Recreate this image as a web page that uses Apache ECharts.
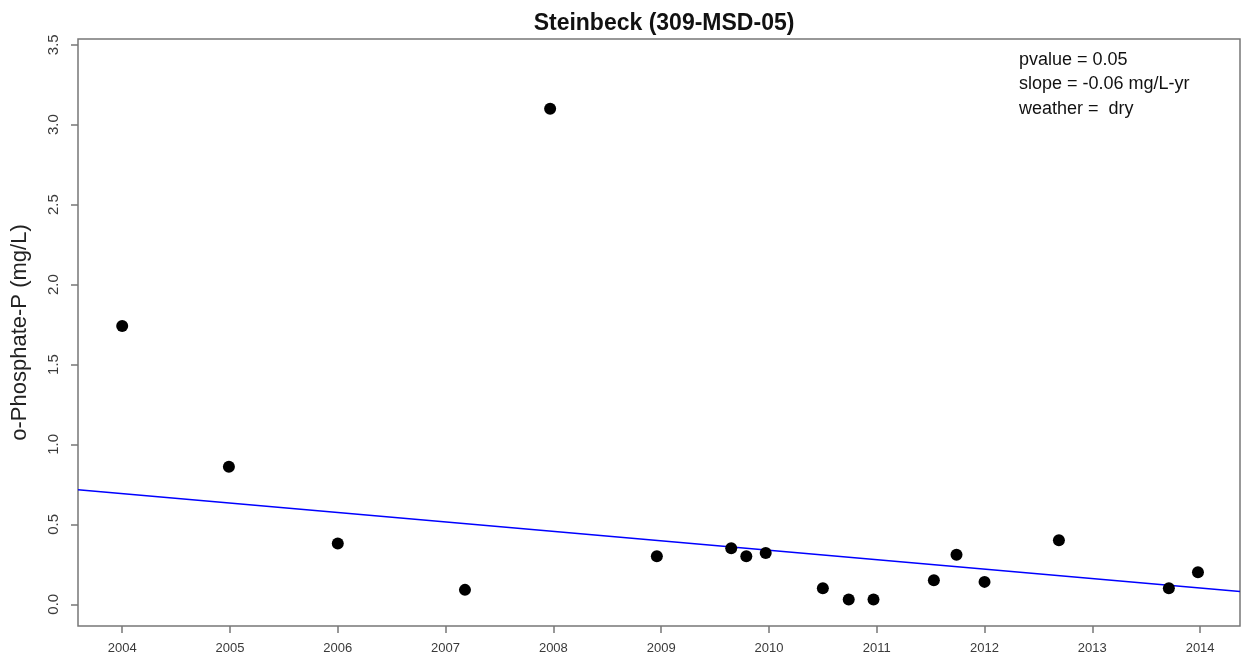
<!DOCTYPE html>
<html>
<head>
<meta charset="utf-8">
<script src="https://cdn.jsdelivr.net/npm/echarts@6/dist/echarts.min.js"></script>
<style>
  html, body { margin: 0; padding: 0; background: #fff; }
  #main { width: 1244px; height: 664px; }
</style>
</head>
<body>
<div id="main"></div>
<script>
// sample dates (decimal years) and o-phosphate values
var sampleYears = [2004.00, 2004.99, 2006.00, 2007.18, 2007.97, 2008.96, 2009.65, 2009.79, 2009.97,
                   2010.50, 2010.74, 2010.97, 2011.53, 2011.74, 2012.00, 2012.69, 2013.71, 2013.98];
var sampleValues = [1.74, 0.86, 0.38, 0.09, 3.10, 0.30, 0.35, 0.30, 0.32,
                    0.10, 0.03, 0.03, 0.15, 0.31, 0.14, 0.40, 0.10, 0.20];
// fitted trend line across the plot, end points
var trendYears = [2003.59, 2014.37];
var trendValues = [0.716, 0.080];
var xTicks = [2004, 2005, 2006, 2007, 2008, 2009, 2010, 2011, 2012, 2013, 2014];
var yTicks = [0, 0.5, 1.0, 1.5, 2.0, 2.5, 3.0, 3.5];
var notes = ['pvalue = 0.05', 'slope = -0.06 mg/L-yr', 'weather =  dry'];

var axisGrey = '#777';
var labelGrey = '#3a3a3a';

var chart = echarts.init(document.getElementById('main'));

var points = sampleYears.map(function (y, i) { return [y, sampleValues[i]]; });
var trend = trendYears.map(function (y, i) { return [y, trendValues[i]]; });

var option = {
    backgroundColor: '#fff',
    animation: false,
    title: {
        text: 'Steinbeck (309-MSD-05)',
        left: 659,
        textAlign: 'center',
        top: 7,
        textStyle: {
            fontFamily: 'Liberation Sans, Arial',
            fontWeight: 'bold',
            fontSize: 23,
            color: '#111'
        }
    },
    grid: {
        left: 78,
        right: 4,
        top: 39,
        bottom: 38,
        show: true,
        borderColor: axisGrey,
        borderWidth: 1.5,
        containLabel: false
    },
    xAxis: {
        type: 'value',
        min: 2003.59,
        max: 2014.37,
        axisLine: { show: false, onZero: false },
        splitLine: { show: false },
        axisTick: {
            show: true,
            customValues: xTicks,
            length: 7,
            lineStyle: { color: axisGrey, width: 1.5 }
        },
        axisLabel: {
            customValues: xTicks,
            formatter: function (v) { return String(v); },
            margin: 16,
            fontFamily: 'Liberation Sans, Arial',
            fontSize: 13,
            color: labelGrey
        }
    },
    yAxis: {
        type: 'value',
        min: -0.136,
        max: 3.536,
        name: 'o-Phosphate-P (mg/L)',
        nameLocation: 'middle',
        nameGap: 47,
        nameTextStyle: {
            fontFamily: 'Liberation Sans, Arial',
            fontSize: 22,
            color: '#222'
        },
        axisLine: { show: false, onZero: false },
        splitLine: { show: false },
        axisTick: {
            show: true,
            customValues: yTicks,
            length: 7,
            lineStyle: { color: axisGrey, width: 1.5 }
        },
        axisLabel: {
            customValues: yTicks,
            rotate: 90,
            formatter: function (v) { return v.toFixed(1); },
            margin: 17,
            fontFamily: 'Liberation Sans, Arial',
            fontSize: 15,
            color: labelGrey
        }
    },
    graphic: notes.map(function (t, i) {
        return {
            type: 'text',
            x: 1019,
            y: 60 + i * 24.5,
            style: {
                text: t,
                font: '18px "Liberation Sans", Arial',
                fill: '#111',
                verticalAlign: 'middle'
            }
        };
    }),
    series: [
        {
            type: 'line',
            data: trend,
            symbol: 'none',
            lineStyle: { color: '#0000ff', width: 1.6 },
            z: 2
        },
        {
            type: 'scatter',
            data: points,
            symbol: 'circle',
            symbolSize: 12,
            itemStyle: { color: '#000', opacity: 1 },
            z: 3
        }
    ]
};

chart.setOption(option);
</script>
</body>
</html>
